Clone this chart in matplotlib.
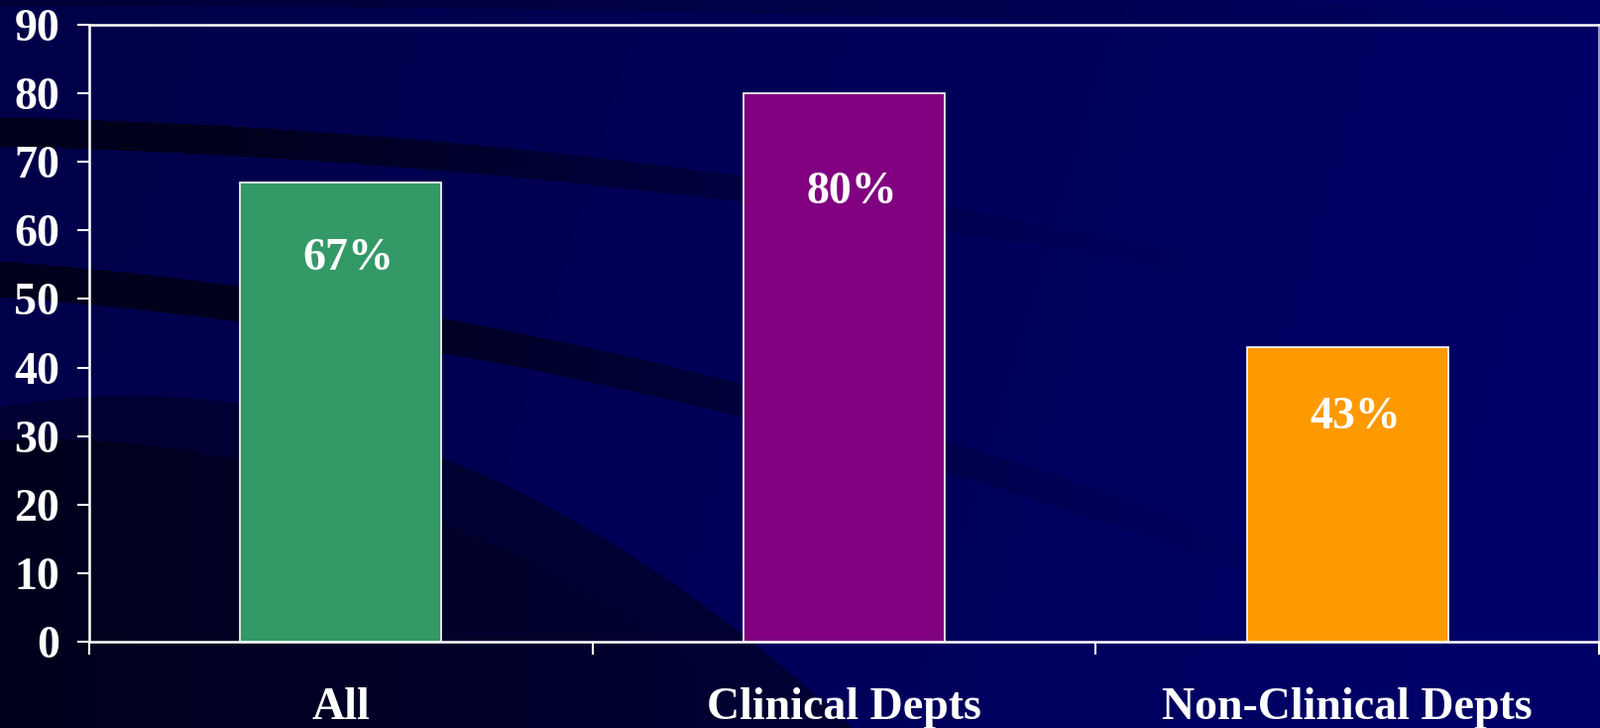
import numpy as np
import matplotlib
matplotlib.use("Agg")
import matplotlib.pyplot as plt

# ── Data ──────────────────────────────────────────────────────────────────────
categories = ["All", "Clinical Depts", "Non-Clinical Depts"]
values     = [67, 80, 43]
labels     = ["67%", "80%", "43%"]
bar_colors = ["#339966", "#800080", "#FF9900"]
y_ticks    = list(range(0, 100, 10))

# how far below the bar top each value label sits (data units)
label_drop = [11.2, 14.5, 10.3]

W, H = 1615, 734
plt.rcParams["font.family"] = ["Liberation Serif", "DejaVu Serif"]
plt.rcParams["font.weight"] = "bold"


# ── Background: navy slide with dark swooshes ─────────────────────────────────
def _curve(xs, pts):
    px, py = zip(*pts)
    return np.polyval(np.polyfit(px, py, 2), xs)


def make_background():
    xx, yy = np.meshgrid(np.arange(W), np.arange(H))
    x = np.arange(W)
    blue = 72 + 30 * (xx / W) + 4 * (yy / H)

    def band(top_pts, bot_pts, level, x0, x1):
        top = _curve(x, top_pts)[None, :]
        bot = _curve(x, bot_pts)[None, :]
        m = (yy >= top) & (yy <= bot)
        # full strength up to x0, fading out linearly to x1
        f = np.clip((x1 - xx) / float(x1 - x0), 0, 1) ** 1.3
        return np.where(m, blue - (blue - level) * f, blue)

    # top strip
    blue = band([(0, -40), (800, -20), (1615, 15)],
                [(0, 5), (800, 14), (1615, 40)], 55, 0, 1700)
    # upper swoosh
    blue = band([(0, 118), (450, 143), (1030, 222)],
                [(0, 147), (450, 172), (1030, 244)], 28, 200, 1250)
    # middle swoosh
    blue = band([(0, 263), (443, 320), (990, 455)],
                [(0, 299), (443, 355), (990, 487)], 28, 300, 1330)

    # large dark lower-left region
    outer = _curve(x, [(0, 410), (443, 460), (860, 734)])[None, :]
    inner = _curve(x, [(0, 443), (443, 525), (800, 734)])[None, :]
    blue = np.where(yy >= outer, np.minimum(blue, 50), blue)
    blue = np.where(yy >= inner, np.minimum(blue, 28 + 24 * (xx / 800)), blue)

    img = np.zeros((H, W, 3))
    img[..., 2] = np.clip(blue, 0, 255) / 255.0
    return img


fig = plt.figure(figsize=(W / 100, H / 100), dpi=100)
bg = fig.add_axes([0, 0, 1, 1])
bg.imshow(make_background(), extent=[0, W, H, 0], aspect="auto", zorder=0)
bg.set_axis_off()

# ── Chart ─────────────────────────────────────────────────────────────────────
ax = fig.add_axes([90 / W, 1 - 647 / H, (1613 - 90) / W, (647 - 25) / H])
ax.patch.set_alpha(0)

xpos = np.arange(len(categories))
ax.bar(xpos, values, width=0.4, color=bar_colors,
       edgecolor="white", linewidth=1.2, zorder=3)

for i, (v, lab) in enumerate(zip(values, labels)):
    ax.text(xpos[i] + 0.015, v - label_drop[i], lab, ha="center", va="center",
            color="white", fontsize=33, fontweight="bold", zorder=4)

ax.set_xlim(-0.5, len(categories) - 0.5)
ax.set_ylim(0, 90)
ax.set_yticks(y_ticks)
ax.set_yticklabels([str(t) for t in y_ticks])
ax.set_xticks(xpos)
ax.set_xticklabels(categories)
ax.set_xticks(np.arange(-0.5, len(categories)), minor=True)

ax.tick_params(axis="y", colors="white", labelcolor="white", length=9,
               width=1.5, pad=12.5, labelsize=33)
ax.tick_params(axis="x", which="major", length=0, pad=33,
               labelcolor="white", labelsize=33)
ax.tick_params(axis="x", which="minor", length=9, width=1.5,
               colors="white", direction="out")

for side in ["left", "bottom", "top"]:
    ax.spines[side].set_color("white")
    ax.spines[side].set_linewidth(1.8)
ax.spines["right"].set_color("#b8b8d8")
ax.spines["right"].set_linewidth(1.2)

for t in ax.get_xticklabels() + ax.get_yticklabels():
    t.set_fontweight("bold")

fig.savefig("out.png", dpi=100)
